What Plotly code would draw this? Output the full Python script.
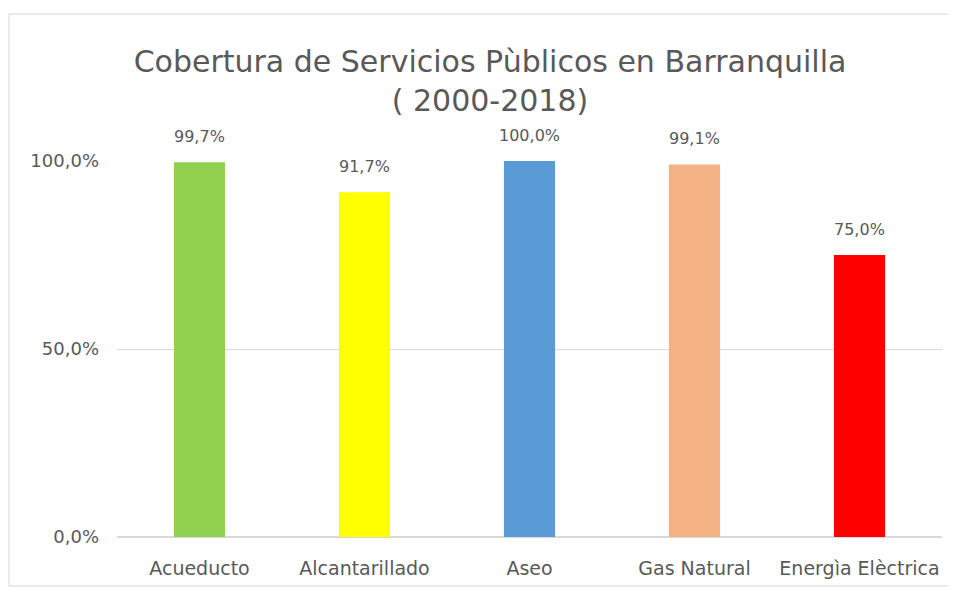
import plotly.graph_objects as go

categories = ["Acueducto", "Alcantarillado", "Aseo", "Gas Natural", "Energìa Elèctrica"]
values = [0.997, 0.917, 1.0, 0.991, 0.75]
colors = ["#92D050", "#FFFF00", "#5B9BD5", "#F4B183", "#FF0000"]
tick_vals = [0, 0.5, 1.0]

FONT = "DejaVu Sans, sans-serif"
GREY = "#595959"

fig = go.Figure()
fig.add_trace(go.Bar(
    x=categories, y=values, marker=dict(color=colors, line=dict(width=0)),
    showlegend=False, hoverinfo="skip",
))

for c, v in zip(categories, values):
    fig.add_annotation(x=c, y=v, text=f"{v*100:.1f}%".replace(".", ","),
                       showarrow=False, yanchor="bottom", yshift=14,
                       font=dict(family=FONT, size=16, color=GREY))

# page has an 8px body margin; figure coordinates are screen - 8
OFF = 8
W, H = 956 - 2 * OFF, 595 - 2 * OFF
L, R, T, B = 117 - OFF, (W + OFF) - 942, 161 - OFF, (H + OFF) - 537
pw, ph = W - L - R, H - T - B

def px(x):
    return (x - OFF - L) / pw

def py(y):
    return (H - B - (y - OFF)) / ph

# chart-area border: left, top and bottom edges (right edge lies off the picture)
x0, x1, yb, yt = px(9), px(975), py(586), py(14)
fig.add_shape(type="path", xref="paper", yref="paper",
              path=f"M {x1},{yt} L {x0},{yt} L {x0},{yb} L {x1},{yb}",
              line=dict(color="#E3E3E3", width=1.5), layer="below")

fig.update_layout(
    width=W, height=H,
    margin=dict(l=L, r=R, t=T, b=B),
    paper_bgcolor="white", plot_bgcolor="white",
    separators=",.",
    bargap=0.69,
    title=dict(text="Cobertura de Servicios Pùblicos en Barranquilla<br>( 2000-2018)",
               x=(490 - OFF) / W, xanchor="center", xref="container",
               y=1 - 63.5 / H, yanchor="middle", yref="container",
               font=dict(family=FONT, size=30, color=GREY)),
    yaxis=dict(range=[0, 1.0], tickvals=tick_vals, tickformat=".1%",
               showgrid=True, gridcolor="#D9D9D9", gridwidth=1,
               zeroline=True, zerolinecolor="#D9D9D9", zerolinewidth=1.5,
               tickfont=dict(family=FONT, size=18, color=GREY), ticks="", ticklen=0,
               ticklabelstandoff=17,
               showline=False, fixedrange=True),
    xaxis=dict(tickfont=dict(family=FONT, size=19, color=GREY), ticks="",
               ticklabelstandoff=18,
               showline=False, showgrid=False),
)

fig.write_html("out.html")
